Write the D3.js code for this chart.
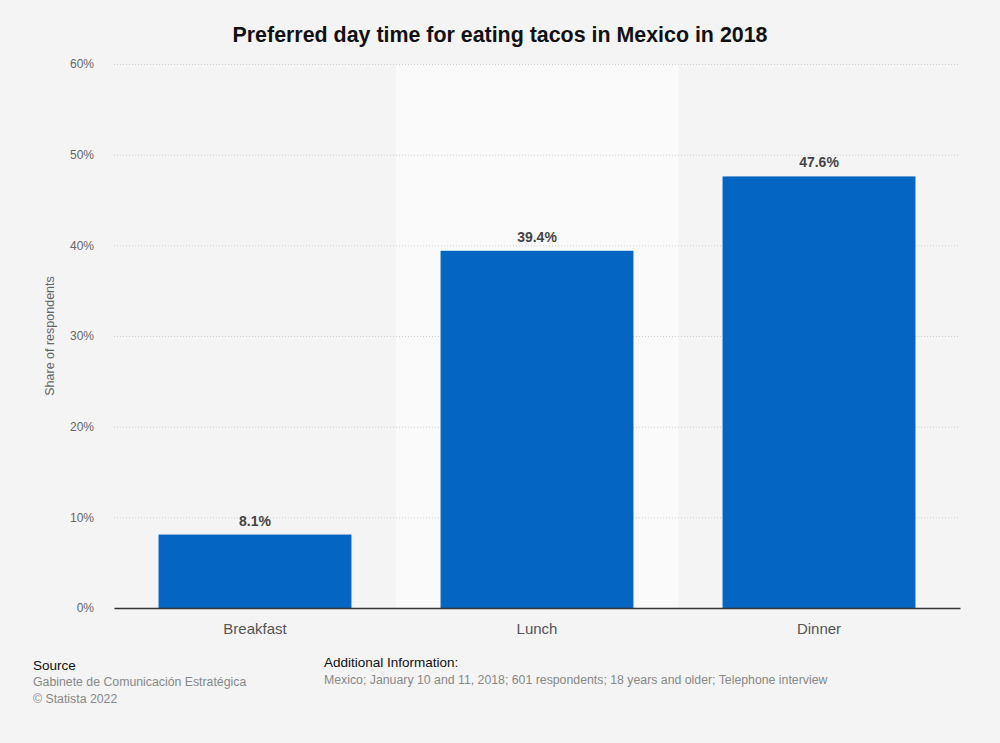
<!DOCTYPE html>
<html><head><meta charset="utf-8">
<script src="https://cdn.jsdelivr.net/npm/d3@7"></script>
<style>
html,body{margin:0;padding:0;background:#f4f4f4;}
svg{display:block;font-family:"Liberation Sans",Arial,sans-serif;}
</style></head>
<body>
<svg id="chart" width="1000" height="743"></svg>
<script>
const categories = ["Breakfast", "Lunch", "Dinner"];
const values = [8.1, 39.4, 47.6];
const yTicks = [0, 10, 20, 30, 40, 50, 60];
const highlighted = "Lunch";

const svg = d3.select("#chart");
const W = 1000, H = 743;
const m = {left:114, right:40, top:64, bottom:135};

svg.append("rect").attr("width", W).attr("height", H).attr("fill", "#f4f4f4");

const x = d3.scaleBand().domain(categories).range([m.left, W - m.right]).paddingInner(0.316).paddingOuter(0.158);
const xBand = d3.scaleBand().domain(categories).range([m.left, W - m.right]).padding(0);
const y = d3.scaleLinear().domain([0, 60]).range([H - m.bottom, m.top]);

svg.append("rect")
  .attr("x", xBand(highlighted)).attr("y", y(60))
  .attr("width", xBand.bandwidth()).attr("height", y(0) - y(60))
  .attr("fill", "#fafafa");

const yAxis = d3.axisLeft(y).tickValues(yTicks).tickFormat(d => d + "%").tickSize(-(W - m.right - m.left)).tickPadding(20);
const gy = svg.append("g").attr("transform", `translate(${m.left},0)`).call(yAxis);
gy.select(".domain").remove();
gy.selectAll(".tick line").attr("stroke", "#cfcfcf").attr("stroke-dasharray", "1,2").attr("stroke-width", 1);
gy.selectAll(".tick text").attr("fill", "#666").attr("font-size", 12);

svg.selectAll(".bar").data(categories).enter().append("rect")
  .attr("x", d => x(d)).attr("width", x.bandwidth())
  .attr("y", (d, i) => y(values[i])).attr("height", (d, i) => y(0) - y(values[i]))
  .attr("fill", "#0466c2");

svg.selectAll(".vl").data(categories).enter().append("text")
  .attr("x", d => x(d) + x.bandwidth() / 2)
  .attr("y", (d, i) => y(values[i]) - 9)
  .attr("text-anchor", "middle").attr("font-size", 14).attr("font-weight", "bold").attr("fill", "#444")
  .text((d, i) => values[i].toFixed(1) + "%");

const xAxis = d3.axisBottom(xBand).tickSize(0).tickPadding(15);
const gx = svg.append("g").attr("transform", `translate(0,${y(0)})`).call(xAxis);
gx.select(".domain").attr("stroke", "#333").attr("stroke-width", 1.6);
gx.selectAll(".tick text").attr("fill", "#555").attr("font-size", 15);

svg.append("text").attr("x", 500).attr("y", 42).attr("text-anchor", "middle")
  .attr("font-size", 21.4).attr("font-weight", "bold").attr("fill", "#111")
  .text("Preferred day time for eating tacos in Mexico in 2018");

svg.append("text").attr("transform", `translate(54,${(y(0)+y(60))/2}) rotate(-90)`)
  .attr("text-anchor", "middle").attr("font-size", 12.5).attr("fill", "#666")
  .text("Share of respondents");

svg.append("text").attr("x", 33).attr("y", 670).attr("font-size", 13.5).attr("fill", "#111").text("Source");
svg.append("text").attr("x", 33).attr("y", 686).attr("font-size", 12.3).attr("fill", "#888").text("Gabinete de Comunicación Estratégica");
svg.append("text").attr("x", 33).attr("y", 703).attr("font-size", 12.3).attr("fill", "#888").text("© Statista 2022");
svg.append("text").attr("x", 324).attr("y", 667).attr("font-size", 13.5).attr("fill", "#111").text("Additional Information:");
svg.append("text").attr("x", 324).attr("y", 684).attr("font-size", 12.3).attr("fill", "#888").text("Mexico; January 10 and 11, 2018; 601 respondents; 18 years and older; Telephone interview");
</script>
</body></html>
